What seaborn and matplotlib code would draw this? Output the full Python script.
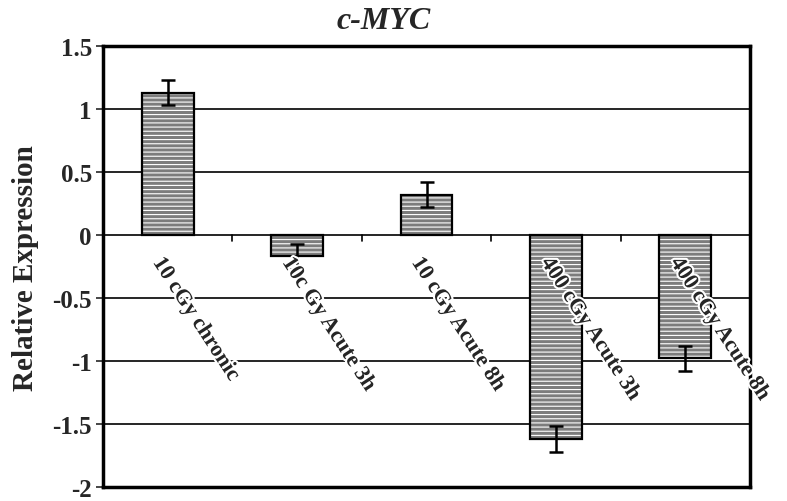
import matplotlib
matplotlib.use("Agg")
import matplotlib.pyplot as plt
import matplotlib.patheffects as pe
import seaborn as sns
import numpy as np
import pandas as pd

categories = ["10 cGy chronic", "10c Gy Acute 3h", "10 cGy Acute 8h",
              "400 cGy Acute 3h", "400 cGy Acute 8h"]
values = [1.13, -0.17, 0.32, -1.62, -0.98]
errors = [0.10, 0.10, 0.10, 0.10, 0.10]
yticks = [1.5, 1, 0.5, 0, -0.5, -1, -1.5, -2]
ytick_labels = ["1.5", "1", "0.5", "0", "-0.5", "-1", "-1.5", "-2"]

sns.set_theme(style="white")
plt.rcParams['font.family'] = ['Liberation Serif', 'DejaVu Serif']
plt.rcParams['hatch.linewidth'] = 0.8

df = pd.DataFrame({"cat": categories, "val": values})

fig = plt.figure(figsize=(7.87, 5.02), dpi=100)
ax = fig.add_axes([0.131, 0.028, 0.822, 0.878])

for y in yticks:
    ax.axhline(y, color='black', lw=1.2, zorder=0)

bar_color = '#7c7c7c'
sns.barplot(data=df, x="cat", y="val", ax=ax, color=bar_color, width=0.4,
            edgecolor='white', linewidth=0, errorbar=None, zorder=2)
for p in ax.patches:
    p.set_facecolor(bar_color)
    p.set_hatch('----')
    if hasattr(p, 'set_hatchcolor'):
        p.set_hatchcolor('white')
        p.set_edgecolor('black')
        p.set_linewidth(1.6)
    else:
        p.set_edgecolor('white')
        p.set_linewidth(0)
        outline = plt.Rectangle(p.get_xy(), p.get_width(), p.get_height(),
                                fill=False, edgecolor='black', lw=1.6, zorder=2.5)
        ax.add_patch(outline)

x = np.arange(len(categories))
ax.errorbar(x, values, yerr=errors, fmt='none', ecolor='black', elinewidth=1.8,
            capsize=5, capthick=1.8, zorder=3)

# small tick marks at category boundaries on zero line
for b in x[:-1] + 0.5:
    ax.plot([b, b], [0, -0.05], color='black', lw=1.2, zorder=1)

ax.set_xlim(-0.5, len(categories) - 0.5)
ax.set_ylim(-2, 1.5)
ax.set_yticks(yticks)
ax.set_yticklabels(ytick_labels, fontsize=18, fontweight='bold')
ax.set_xticks([])
ax.set_xlabel("")
ax.set_ylabel("Relative Expression", fontsize=21, fontweight='bold', labelpad=10)
ax.tick_params(axis='y', direction='out', length=5, width=1.2, left=True, pad=3)

for i, lab in enumerate(categories):
    ax.text(i - 0.02, -0.15, lab, rotation=-57, rotation_mode='anchor',
            ha='left', va='top', fontsize=16, fontweight='bold', zorder=4,
            clip_on=False,
            path_effects=[pe.withStroke(linewidth=3, foreground='white')])

for s in ax.spines.values():
    s.set_visible(True)
    s.set_color('black')
    s.set_linewidth(2.5)

fig.text(0.487, 0.958, "c-MYC", fontsize=23, fontweight='bold', fontstyle='italic',
         ha='center', va='center')

fig.savefig("out.png", dpi=100)
